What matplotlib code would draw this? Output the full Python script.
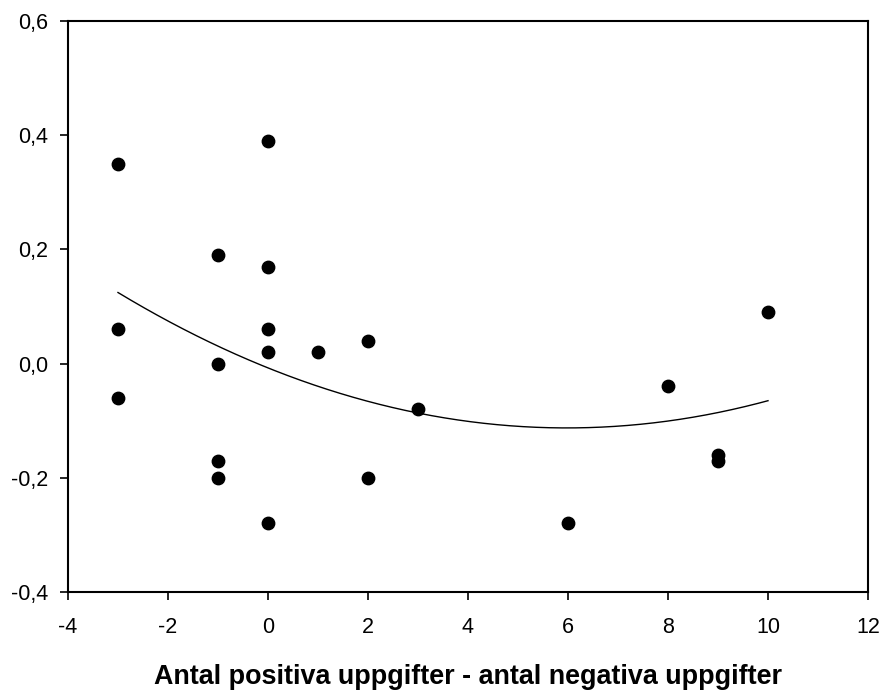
import numpy as np
import matplotlib.pyplot as plt
from matplotlib.ticker import FuncFormatter

plt.rcParams['font.family'] = ['Liberation Sans', 'DejaVu Sans']
plt.rcParams['axes.unicode_minus'] = False

# differens positiva - negativa uppgifter, och mätvärde
x_vals = [-3, -3, -3, -1, -1, -1, -1, 0, 0, 0, 0, 0, 1, 2, 2, 3, 6, 8, 9, 9, 10]
y_vals = [0.35, 0.06, -0.06, 0.19, 0.00, -0.17, -0.20, 0.39, 0.17, 0.06, 0.02,
          -0.28, 0.02, 0.04, -0.20, -0.08, -0.28, -0.04, -0.16, -0.17, 0.09]

# andragradsanpassning
coef = np.polyfit(x_vals, y_vals, 2)
xs = np.linspace(min(x_vals), max(x_vals), 200)
ys = np.polyval(coef, xs)

fig = plt.figure(figsize=(8.84, 6.90), dpi=100)
ax = fig.add_axes([0.0769, 0.142, 0.905, 0.8276])

ax.scatter(x_vals, y_vals, s=80, color='black', zorder=3)
ax.plot(xs, ys, color='black', lw=1.0)

ax.set_xlim(-4, 12)
ax.set_ylim(-0.4, 0.6)
ax.set_xticks(np.arange(-4, 13, 2))
ax.set_yticks(np.arange(-0.4, 0.61, 0.2))
ax.yaxis.set_major_formatter(FuncFormatter(lambda v, p: f"{v:.1f}".replace('.', ',').replace('-0,0', '0,0')))
ax.tick_params(direction='out', length=6, width=1.2, labelsize=15.5)
ax.tick_params(axis='x', pad=12)
ax.tick_params(axis='y', pad=8)
ax.tick_params(top=False, right=False)
for s in ax.spines.values():
    s.set_linewidth(1.5)

ax.set_xlabel('Antal positiva uppgifter - antal negativa uppgifter',
              fontsize=19.4, fontweight='bold', labelpad=19)

fig.savefig('out.png', dpi=100)
